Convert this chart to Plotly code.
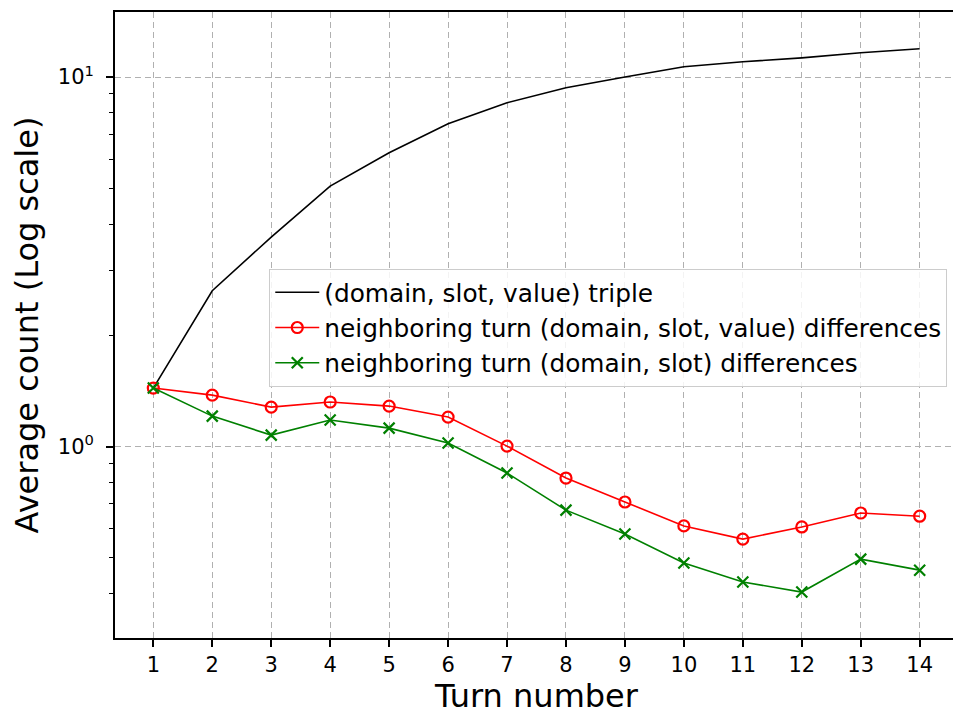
import plotly.graph_objects as go

turns = list(range(1, 15))
triple = [1.44, 2.64, 3.69, 5.07, 6.24, 7.47, 8.52, 9.35, 10.0, 10.66, 11.0, 11.27, 11.63, 11.93]
dsv_diff = [1.44, 1.378, 1.279, 1.32, 1.287, 1.202, 1.003, 0.822, 0.708, 0.610, 0.562, 0.606, 0.661, 0.648]
ds_diff = [1.44, 1.209, 1.074, 1.18, 1.122, 1.022, 0.848, 0.673, 0.580, 0.484, 0.430, 0.404, 0.496, 0.463]

names = ["(domain, slot, value) triple",
         "neighboring turn (domain, slot, value) differences",
         "neighboring turn (domain, slot) differences"]
x_ticks = turns
y_major = [1, 10]
y_major_text = ["10<sup>0</sup>", "10<sup>1</sup>"]
y_minor = [0.4, 0.5, 0.6, 0.7, 0.8, 0.9, 2, 3, 4, 5, 6, 7, 8, 9]

FONT = "DejaVu Sans"
GRID_DASH = "6px,4px"

fig = go.Figure()
fig.add_trace(go.Scatter(x=turns, y=triple, mode="lines", name=names[0],
                         line=dict(color="black", width=1.6)))
fig.add_trace(go.Scatter(x=turns, y=dsv_diff, mode="lines+markers", name=names[1],
                         line=dict(color="#ff0000", width=1.6),
                         marker=dict(symbol="circle-open", size=11, color="#ff0000",
                                     line=dict(width=2.2, color="#ff0000"))))
fig.add_trace(go.Scatter(x=turns, y=ds_diff, mode="lines+markers", name=names[2],
                         line=dict(color="#008000", width=1.6),
                         marker=dict(symbol="x-thin-open", size=11, color="#008000",
                                     line=dict(width=2.2, color="#008000"))))

fig.update_layout(
    width=953, height=707,
    margin=dict(l=107, r=1, t=4, b=77),
    paper_bgcolor="white", plot_bgcolor="white",
    font=dict(family=FONT, color="black", size=21),
    showlegend=True,
    legend=dict(x=0.183, y=0.59, xanchor="left", yanchor="top",
                bgcolor="rgba(255,255,255,0.85)", bordercolor="#cccccc", borderwidth=1,
                font=dict(size=24.8, family=FONT), tracegroupgap=0, itemwidth=44),
)
fig.update_xaxes(
    range=[0.35, 14.65], tickmode="array", tickvals=x_ticks,
    ticks="outside", ticklen=7, tickwidth=1.5, tickcolor="black",
    showline=True, linecolor="black", linewidth=1.8, mirror=True,
    showgrid=True, gridcolor="#b0b0b0", griddash=GRID_DASH, gridwidth=1.2,
    zeroline=False, tickfont=dict(size=21),
    title=dict(text="Turn number", font=dict(size=32), standoff=5),
)
fig.update_yaxes(
    type="log", range=[-0.518, 1.176],
    tickmode="array", tickvals=y_major, ticktext=y_major_text,
    ticks="outside", ticklen=7, tickwidth=1.5, tickcolor="black",
    ticklabelstandoff=8,
    minor=dict(tickmode="array", tickvals=y_minor, ticks="outside", ticklen=4,
               tickwidth=1, tickcolor="black", showgrid=False),
    showline=True, linecolor="black", linewidth=1.8, mirror=True,
    showgrid=True, gridcolor="#b0b0b0", griddash=GRID_DASH, gridwidth=1.2,
    zeroline=False, tickfont=dict(size=21),
    title=dict(text="Average count (Log scale)", font=dict(size=32), standoff=12),
)

fig.write_html("out.html")
